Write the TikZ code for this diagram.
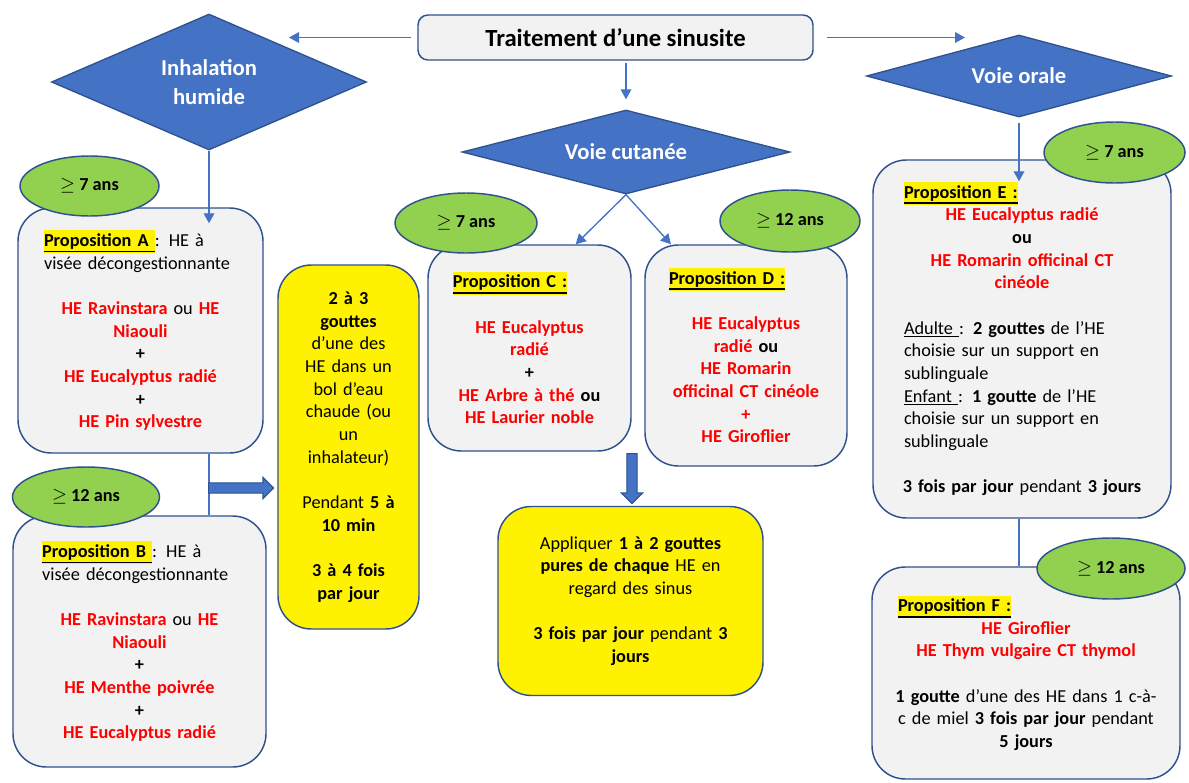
\documentclass[tikz,border=0pt]{standalone}
\usepackage{fontspec}
\setmainfont{Carlito}
\usetikzlibrary{positioning,arrows.meta}
\usetikzlibrary{shapes.geometric}
\usetikzlibrary{shapes.arrows}
\definecolor{hered}{HTML}{FF0000}
\definecolor{bordblue}{HTML}{2F528F}
\definecolor{arrblue}{HTML}{4472C4}
\definecolor{agegreen}{HTML}{92D050}
\definecolor{boxgray}{HTML}{F2F2F2}
\newcommand{\he}[1]{\textcolor{hered}{\textbf{#1}}}
\newcommand{\oneline}[1]{\makebox[\linewidth]{#1}}
\newsavebox{\propsave}
\newcommand{\prop}[1]{{\sbox{\propsave}{\textbf{#1}}\setlength{\fboxsep}{0pt}\colorbox{yellow}{\strut\usebox{\propsave}}\llap{\rule[-4.6pt]{\wd\propsave}{1.3pt}}}}
\tikzstyle{titlebox} = [draw=bordblue, fill=boxgray, line width=1.1pt, rounded corners=7.5pt, inner sep=0pt, font=\fontsize{18.5}{22}\selectfont\bfseries]
\tikzstyle{voie} = [diamond, draw=bordblue, fill=arrblue, line width=1pt, inner sep=0pt, text=white, align=center, font=\fontsize{17}{22}\selectfont\bfseries]
\tikzstyle{propbox} = [draw=bordblue, fill=boxgray, line width=1.1pt, rounded corners=25pt, inner sep=0pt]
\tikzstyle{yelbox} = [propbox, fill=yellow, align=center]
\tikzstyle{age} = [ellipse, draw=bordblue, fill=agegreen, line width=1.1pt, inner sep=0pt, font=\fontsize{13.7}{17}\selectfont\bfseries]
\tikzstyle{arr} = [draw=arrblue, line width=1pt, -{Triangle[length=7.5pt,width=8pt]}]
\tikzstyle{link} = [draw=arrblue, line width=0.8pt]
\tikzstyle{blockarr} = [single arrow, draw=bordblue, fill=arrblue, line width=0.8pt, inner sep=0pt, inner ysep=3.4pt, single arrow head extend=4.1pt]

\begin{document}
\begin{tikzpicture}[x=0.75pt,y=-0.75pt,font=\fontsize{13.7}{17}\selectfont]
\useasboundingbox (0,0) rectangle (1189,782);

\node[titlebox, minimum width=296.25pt, minimum height=33.75pt] (tit) at (615.5,37.5) {Traitement d’une sinusite};

\node[voie, aspect=2.3, minimum width=236.25pt, minimum height=102pt] (inh) at (209,82) {Inhalation\\humide};
\node[voie, aspect=3.9, minimum width=246pt, minimum height=63pt] (cut) at (626,152) {Voie cutanée};
\node[voie, aspect=3.7, minimum width=228.75pt, minimum height=61.5pt] (ora) at (1019,76) {Voie orale};

\node[propbox, minimum width=183.75pt, minimum height=183.75pt, text width=144.75pt] (pa) at (140.5,330.5)
{{\raggedright\prop{Proposition A }: HE à\\ visée décongestionnante\par}\vspace{17pt}
{\centering\he{HE Ravinstara} ou \he{HE}\\ \he{Niaouli}\\ \textbf{+}\\ \he{HE Eucalyptus radié}\\ \textbf{+}\\ \he{HE Pin sylvestre}\par}};

\node[propbox, minimum width=189.75pt, minimum height=188.25pt, text width=146pt] (pb) at (139.5,641.5)
{{\raggedright\prop{Proposition B }: HE à\\ visée décongestionnante\par}\vspace{17pt}
{\centering\he{HE Ravinstara} ou \he{HE}\\ \he{Niaouli}\\ \textbf{+}\\ \he{HE Menthe poivrée}\\ \textbf{+}\\ \he{HE Eucalyptus radié}\par}};

\node[yelbox, minimum width=105.75pt, minimum height=273pt, text width=80pt] (ya) at (348.5,447)
{\textbf{2 à 3}\\ \textbf{gouttes}\\ d’une des\\ HE dans un\\ bol d’eau\\ chaude (ou\\ un\\ inhalateur)\\[17pt] Pendant \textbf{5 à}\\ \textbf{10 min}\\[17pt] \textbf{3 à 4 fois}\\ \textbf{par jour}};

\node[propbox, minimum width=152.25pt, minimum height=154.5pt, text width=115pt] (pc) at (529.5,348)
{{\raggedright\prop{Proposition C :}\par}\vspace{17pt}
{\centering\he{HE Eucalyptus}\\ \he{radié}\\ \textbf{+}\\ \he{HE Arbre à thé} \textbf{ou}\\ \he{HE Laurier noble}\par}};

\node[propbox, minimum width=151.5pt, minimum height=165.75pt, text width=115.5pt] (pd) at (746,355.5)
{{\raggedright\prop{Proposition D :}\par}\vspace{17pt}
{\centering\he{HE Eucalyptus}\\ \he{radié} \textbf{ou}\\ \he{HE Romarin}\\ \he{officinal CT cinéole}\\ \he{+}\\ \he{HE Giroflier}\par}};

\node[yelbox, minimum width=198.75pt, minimum height=141.75pt, text width=165pt] (yc) at (630.5,601)
{Appliquer \textbf{1 à 2 gouttes}\\ \textbf{pures de chaque} HE en\\ regard des sinus\\[17pt] \textbf{3 fois par jour} pendant \textbf{3}\\ \textbf{jours}};

\node[propbox, minimum width=223.5pt, minimum height=268.5pt, text width=177pt] (pe) at (1022,339)
{{\raggedright\prop{Proposition E :}\par}
{\centering\he{HE Eucalyptus radié}\\ \textbf{ou}\\ \he{HE Romarin officinal CT}\\ \he{cinéole}\par}\vspace{17pt}
{\raggedright\underline{Adulte }: \textbf{2 gouttes} de l’HE\\ choisie sur un support en\\ sublinguale\\ \underline{Enfant }: \textbf{1 goutte} de l’HE\\ choisie sur un support en\\ sublinguale\par}\vspace{17pt}
{\noindent\oneline{\textbf{3 fois par jour} pendant \textbf{3 jours}}\par}};

\node[propbox, minimum width=231pt, minimum height=159pt, text width=192pt] (pf) at (1026,673)
{{\raggedright\prop{Proposition F :}\par}
{\centering\he{HE Giroflier}\\ \he{HE Thym vulgaire CT thymol}\par}\vspace{17pt}
{\noindent\oneline{\textbf{1 goutte} d’une des HE dans 1 c-à-}\\ \oneline{c de miel \textbf{3 fois par jour} pendant}\\ \oneline{\textbf{5 jours}}\par}};

\node[age, minimum width=104.25pt, minimum height=45pt] (a7a) at (89.5,186) {$\geq$ 7 ans};
\node[age, minimum width=110.25pt, minimum height=45pt] (a12b) at (86,497) {$\geq$ 12 ans};
\node[age, minimum width=106.5pt, minimum height=45pt] (a7c) at (466,223) {$\geq$ 7 ans};
\node[age, minimum width=105pt, minimum height=46.5pt] (a12d) at (790,221) {$\geq$ 12 ans};
\node[age, minimum width=105.75pt, minimum height=45.75pt] (a7e) at (1114.5,152.5) {$\geq$ 7 ans};
\node[age, minimum width=111pt, minimum height=45.75pt] (a12f) at (1111,568.5) {$\geq$ 12 ans};

\coordinate (tl) at (289,37.5);
\coordinate (tr) at (965,37.5);
\draw[arr, shorten <=4.5pt] (tit.west) -- (tl);
\draw[arr, shorten <=9.75pt] (tit.east) -- (tr);
\draw[arr, shorten <=1.5pt, shorten >=7.5pt] (tit.south -| cut.north) -- (cut.north);

\draw[arr, shorten >=-12pt] (inh.south) -- (inh.south |- pa.north);
\draw[link] (inh.south |- pa.south) -- (inh.south |- pb.north);
\node[blockarr, anchor=tail, minimum height=48.75pt] (ha) at (208,488) {};

\draw[arr] (cut.south) -- (pc.66);
\draw[arr] (cut.south) -- (pd.124);
\node[blockarr, rotate=-90, anchor=tail, minimum height=37.5pt] (va) at (632,453) {};

\draw[arr, shorten <=3.75pt, shorten >=-16.5pt] (ora.south) -- (ora.south |- pe.north);
\draw[link] (ora.south |- pe.south) -- (ora.south |- pf.north);

\end{tikzpicture}
\end{document}
